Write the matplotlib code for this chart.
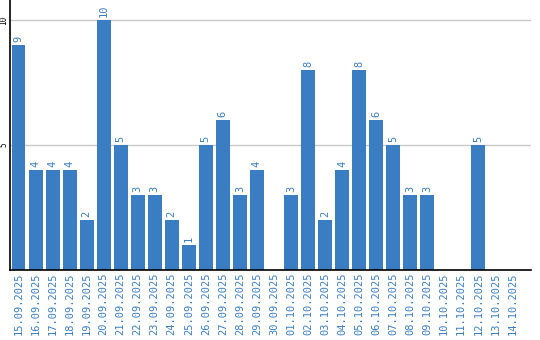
import matplotlib
matplotlib.use("Agg")
import matplotlib.pyplot as plt
import numpy as np

dates = ["15.09.2025", "16.09.2025", "17.09.2025", "18.09.2025", "19.09.2025",
         "20.09.2025", "21.09.2025", "22.09.2025", "23.09.2025", "24.09.2025",
         "25.09.2025", "26.09.2025", "27.09.2025", "28.09.2025", "29.09.2025",
         "30.09.2025", "01.10.2025", "02.10.2025", "03.10.2025", "04.10.2025",
         "05.10.2025", "06.10.2025", "07.10.2025", "08.10.2025", "09.10.2025",
         "10.10.2025", "11.10.2025", "12.10.2025", "13.10.2025", "14.10.2025"]
counts = [9, 4, 4, 4, 2, 10, 5, 3, 3, 2, 1, 5, 6, 3, 4, 0,
          3, 8, 2, 4, 8, 6, 5, 3, 3, 0, 0, 5, 0, 0]
y_ticks = [5, 10]

bar_color = "#3a7dc3"

fig = plt.figure(figsize=(5.4, 3.4), dpi=100)
ax = fig.add_axes([10 / 540, 70 / 340, 521 / 540, 270 / 340])

x = np.arange(len(dates))
bars = ax.bar(x, counts, width=0.82, color=bar_color, zorder=2)

# value labels above the bars
for xi, v in zip(x, counts):
    if v > 0:
        ax.text(xi, v + 0.12, str(v), rotation=90, ha="center", va="bottom",
                color=bar_color, fontsize=7.5, family="DejaVu Sans Mono")

ax.set_xlim(-0.5, 30.1)
ax.set_ylim(0, 10.8)
ax.set_yticks(y_ticks)
ax.set_yticklabels([str(t) for t in y_ticks], rotation=90, va="center",
                   fontsize=5.5, family="DejaVu Sans Mono")
ax.set_xticks(x)
ax.set_xticklabels(dates, rotation=90, color=bar_color, fontsize=7.5,
                   family="DejaVu Sans Mono")
ax.tick_params(axis="x", length=0, pad=2)
ax.tick_params(axis="y", length=0, pad=1)
ax.grid(True, axis="y", color="#c8c8c8", linewidth=1, zorder=0)

for side in ["top", "right"]:
    ax.spines[side].set_visible(False)
ax.spines["left"].set_linewidth(1.2)
ax.spines["bottom"].set_linewidth(1.2)

plt.savefig("out.png", dpi=100)
